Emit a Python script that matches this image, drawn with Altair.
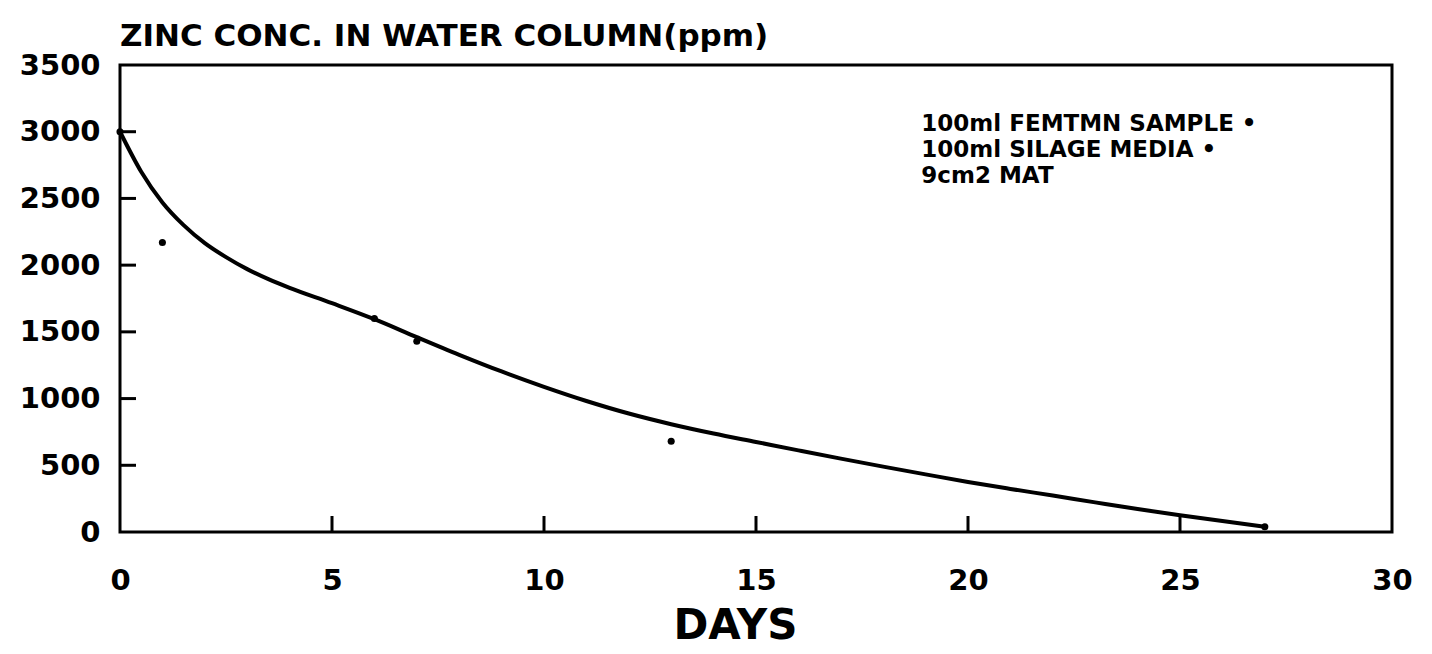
import altair as alt
import pandas as pd

# Fitted curve
curve_days = [0, 0.5, 1, 1.5, 2, 2.5, 3, 3.5, 4, 5, 6, 7, 8, 9, 10, 11, 12, 13,
              14, 15, 16, 17, 18, 19, 20, 21, 22, 23, 24, 25, 26, 27]
curve_ppm = [3000, 2700, 2470, 2300, 2165, 2060, 1970, 1895, 1830, 1715, 1595,
             1460, 1328, 1203, 1088, 982, 888, 808, 738, 675, 612, 550, 490,
             432, 375, 323, 273, 222, 172, 126, 82, 40]

# Measured points
obs_days = [0, 1, 6, 7, 13, 27]
obs_ppm = [3000, 2170, 1600, 1430, 680, 40]

# Axis ticks
x_tick_values = [0, 5, 10, 15, 20, 25, 30]
x_inner_ticks = [5, 10, 15, 20, 25]
y_tick_values = [0, 500, 1000, 1500, 2000, 2500, 3000, 3500]
y_inner_ticks = [500, 1000, 1500, 2000, 2500, 3000]

# Legend note
note_lines = ["100ml FEMTMN SAMPLE •", "100ml SILAGE MEDIA •", "9cm2 MAT"]
note_day = [18.9, 18.9, 18.9]
note_ppm = [3060, 2860, 2665]

FONT = "DejaVu Sans"
W, H = 1272, 467

curve_df = pd.DataFrame({"day": curve_days, "ppm": curve_ppm})
obs_df = pd.DataFrame({"day": obs_days, "ppm": obs_ppm})
xt_df = pd.DataFrame({"day": x_inner_ticks})
yt_df = pd.DataFrame({"ppm": y_inner_ticks})
note_df = pd.DataFrame({"day": note_day, "ppm": note_ppm, "text": note_lines})

xscale = alt.Scale(domain=[0, 30], nice=False, zero=False)
yscale = alt.Scale(domain=[0, 3500], nice=False)

xaxis = alt.Axis(
    values=x_tick_values, title="DAYS", grid=False, ticks=False, domain=False,
    format="d",
    labelFont=FONT, labelFontWeight="bold", labelFontSize=29, labelColor="black",
    labelPadding=34, labelFlush=False,
    titleFont=FONT, titleFontWeight="bold", titleFontSize=42, titleColor="black",
    titlePadding=10, titleX=615, titleAnchor="middle", titleAlign="center")
yaxis = alt.Axis(
    values=y_tick_values, title=None, grid=False, ticks=False, domain=False,
    format="d",
    labelFont=FONT, labelFontWeight="bold", labelFontSize=29, labelColor="black",
    labelPadding=20, labelFlush=False)

X = lambda: alt.X("day:Q", scale=xscale, axis=xaxis)
Y = lambda: alt.Y("ppm:Q", scale=yscale, axis=yaxis)

line = alt.Chart(curve_df).mark_line(
    color="black", strokeWidth=4, interpolate="monotone"
).encode(x=X(), y=Y())

points = alt.Chart(obs_df).mark_circle(color="black", opacity=1, size=50).encode(
    x=X(), y=Y()
)

xticks = alt.Chart(xt_df).mark_rule(color="black", strokeWidth=3).encode(
    x=X(),
    y=alt.value(H),
    y2=alt.value(H - 16),
)

yticks = alt.Chart(yt_df).mark_rule(color="black", strokeWidth=3).encode(
    y=Y(),
    x=alt.value(0),
    x2=alt.value(16),
)

note = alt.Chart(note_df).mark_text(
    align="left", baseline="middle", font=FONT, fontWeight="bold",
    fontSize=23, color="black"
).encode(x=X(), y=Y(), text="text:N")

chart = alt.layer(line, points, xticks, yticks, note).properties(
    width=W,
    height=H,
    padding={"left": 112, "top": 57, "right": 32, "bottom": 122},
    autosize=alt.AutoSizeParams(type="none"),
    title=alt.Title(
        "ZINC CONC. IN WATER COLUMN(ppm)", anchor="start", frame="group",
        font=FONT, fontWeight="bold", fontSize=31, color="black", offset=0,
        dy=2,
    ),
).configure(
    background="white"
).configure_view(
    stroke="black", strokeWidth=3
)

chart.save("out.html", embed_options={"renderer": "svg", "actions": False})
